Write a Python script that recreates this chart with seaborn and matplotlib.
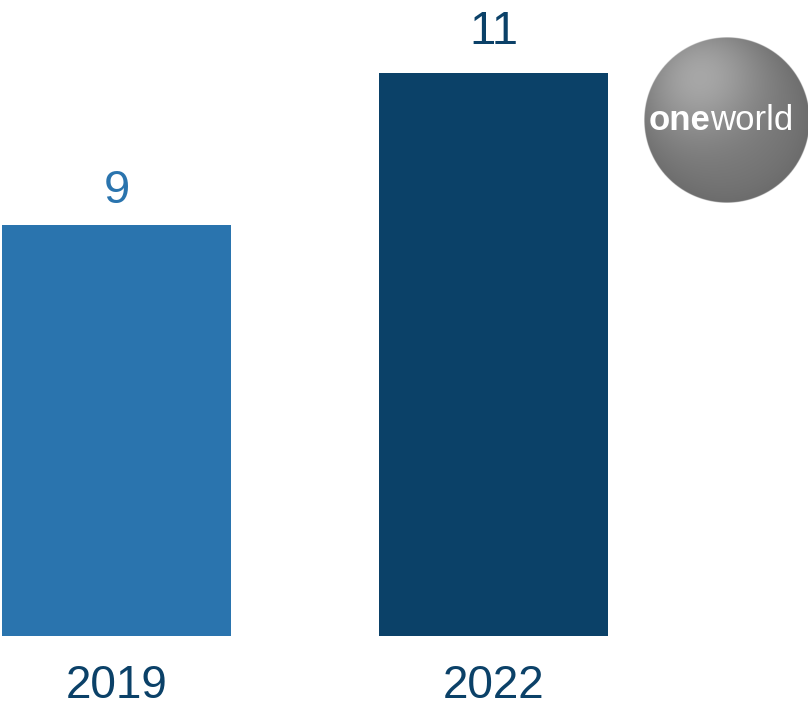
import numpy as np
import pandas as pd
import matplotlib
matplotlib.use("Agg")
import matplotlib.pyplot as plt
import seaborn as sns

# Data
years = ["2019", "2022"]
members = [9, 11]
bar_colors = ["#2a74ae", "#0b4168"]
label_colors = ["#2a74ae", "#0b4168"]

sns.set_style("white")
plt.rcParams["font.family"] = ["Liberation Sans", "DejaVu Sans"]

df = pd.DataFrame({"year": years, "members": members})

fig = plt.figure(figsize=(8.08, 7.07), dpi=100)
ax = fig.add_axes([0.0, 71 / 707, 1.0, 636 / 707])

sns.barplot(data=df, x="year", y="members", hue="year", palette=bar_colors,
            width=0.607, saturation=1, legend=False, linewidth=0, ax=ax)

ax.set_xlim(-116.5 / 377, (808 - 116.5) / 377)
ax.set_ylim(3.592, 11.96)

# value labels above the bars (offset in points from the bar top)
label_offsets = [16, 21]
for i, (v, c, off) in enumerate(zip(members, label_colors, label_offsets)):
    ax.annotate(str(v), xy=(i, v), xytext=(0, off), textcoords="offset points",
                ha="center", va="baseline", fontsize=34, color=c)

ax.set_xlabel("")
ax.set_ylabel("")
ax.set_yticks([])
ax.tick_params(axis="x", length=0, pad=20, labelsize=33, labelcolor="#0b4168")
sns.despine(ax=ax, left=True, bottom=True)

# oneworld logo: shaded grey sphere with wordmark
lax = fig.add_axes([644 / 808, (707 - 203) / 707, 166 / 808, 166 / 707])
n = 400
yy, xx = np.mgrid[-1:1:n * 1j, -1:1:n * 1j]
r = np.sqrt(xx ** 2 + yy ** 2)
hx, hy = -0.35, -0.55
d = np.sqrt((xx - hx) ** 2 + (yy - hy) ** 2)
shade = 0.46 + 0.20 * np.exp(-(d / 0.75) ** 2) - 0.04 * np.clip(r, 0, 1) ** 4
rgba = np.zeros((n, n, 4))
rgba[..., 0] = shade
rgba[..., 1] = shade
rgba[..., 2] = shade
rgba[..., 3] = np.clip((1 - r) * n / 2, 0, 1)
lax.imshow(rgba, extent=[0, 1, 0, 1], origin="upper", interpolation="bilinear")
lax.text(0.40, 0.50, "one", transform=lax.transAxes, ha="right", va="center",
         fontsize=25, fontweight="bold", color="white")
lax.text(0.40, 0.50, "world", transform=lax.transAxes, ha="left", va="center",
         fontsize=25, color="white")
lax.set_xlim(0, 1)
lax.set_ylim(0, 1)
lax.axis("off")

fig.savefig("out.png", dpi=100)
